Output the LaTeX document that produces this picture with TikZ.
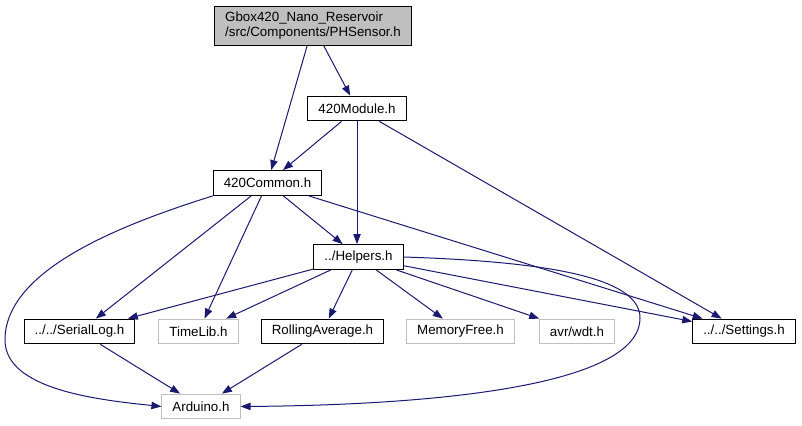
\documentclass[tikz,border=0pt]{standalone}
\usepackage{fontspec}
\setmainfont{Liberation Sans}
\usetikzlibrary{arrows.meta}
\definecolor{edgeblue}{RGB}{25,25,112}
\definecolor{extgray}{RGB}{191,191,191}
\begin{document}
\begin{tikzpicture}[
  x=0.75pt, y=-0.75pt,
  box/.style={draw, line width=0.75pt, inner xsep=7.9pt, inner ysep=1pt,
              minimum height=18.6pt, font=\fontsize{10}{11.25}\selectfont},
  extbox/.style={box, draw=extgray},
  dep/.style={draw=edgeblue, line width=0.75pt, -{Triangle[length=7.5pt,width=5.5pt]}},
  every edge/.style={dep}
]
\useasboundingbox (0,0) rectangle (802,425);
\node[box, fill=extgray, align=left, minimum height=29.25pt] (phsensor) at (313,25.5)
  {Gbox420\_Nano\_Reservoir\\/src/Components/PHSensor.h};
\node[box] (module) at (357,108.5) {420Module.h};
\node[box] (common) at (267.5,183) {420Common.h};
\node[box] (helpers) at (358.5,257) {../Helpers.h};
\node[box] (seriallog) at (79.5,331.5) {../../SerialLog.h};
\node[extbox] (timelib) at (198.5,331.5) {TimeLib.h};
\node[box] (rolling) at (322.5,331.5) {RollingAverage.h};
\node[extbox] (memfree) at (460.5,331.5) {MemoryFree.h};
\node[extbox] (wdt) at (577,331.5) {avr/wdt.h};
\node[box] (settings) at (744,331.5) {../../Settings.h};
\node[extbox] (arduino) at (201,406.5) {Arduino.h};
\path (phsensor) edge (common)
      (phsensor) edge (module)
      (module) edge (common)
      (module.south) edge (module.south |- helpers.north)
      (module) edge (settings)
      (common) edge (helpers)
      (common) edge (settings)
      (common) edge (seriallog)
      (common) edge (timelib)
      (helpers) edge (seriallog)
      (helpers) edge (timelib)
      (helpers) edge (rolling)
      (helpers) edge (memfree)
      (helpers) edge (wdt)
      (helpers) edge (settings)
      (seriallog) edge (arduino)
      (rolling) edge (arduino);
% the two long bends down to Arduino.h
\draw[dep] (common.south west) .. controls (120,225) and (5,270) .. (5,340)
  .. controls (5,390) and (100,400) .. (arduino.west);
\draw[dep] (helpers.east) .. controls (560,262) and (640,280) .. (640,318)
  .. controls (640,385) and (440,405) .. (arduino.east);
\end{tikzpicture}
\end{document}
